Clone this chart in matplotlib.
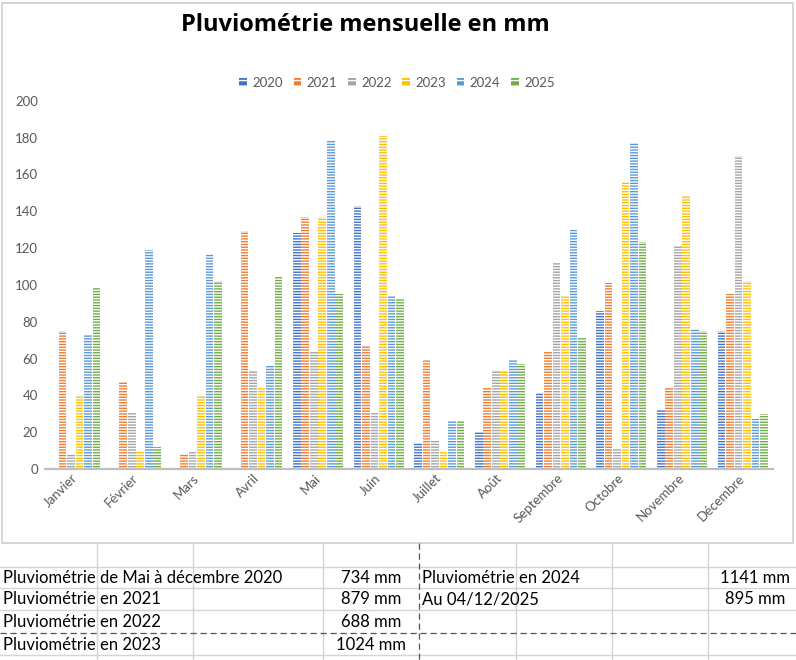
import matplotlib
matplotlib.use("Agg")
import matplotlib.pyplot as plt
import matplotlib.transforms as mtransforms
from matplotlib.lines import Line2D
from matplotlib.patches import Rectangle, Patch
import numpy as np

plt.rcParams['font.family'] = ['Lato', 'DejaVu Sans']
plt.rcParams['hatch.linewidth'] = 1.0

months = ["Janvier", "Février", "Mars", "Avril", "Mai", "Juin", "Juillet",
          "Août", "Septembre", "Octobre", "Novembre", "Décembre"]
years = ["2020", "2021", "2022", "2023", "2024", "2025"]

v2020 = [0, 0, 0, 0, 128, 143, 14, 20, 41, 86, 32, 75]
v2021 = [75, 47, 8, 129, 137, 67, 60, 44, 64, 101, 44, 95]
v2022 = [8, 31, 9, 54, 64, 31, 15, 54, 112, 11, 121, 170]
v2023 = [40, 9, 40, 44, 137, 181, 9, 54, 94, 156, 148, 102]
v2024 = [73, 119, 117, 56, 178, 94, 26, 59, 130, 177, 76, 27]
v2025 = [99, 12, 102, 104, 95, 93, 26, 57, 71, 123, 75, 30]
series = [v2020, v2021, v2022, v2023, v2024, v2025]
colors = ["#4472C4", "#ED7D31", "#A5A5A5", "#FFC000", "#5B9BD5", "#70AD47"]

title = "Pluviométrie mensuelle en mm"

table_rows = [
    ("Pluviométrie de Mai à décembre 2020", "734 mm", "Pluviométrie en 2024", "1141 mm"),
    ("Pluviométrie en 2021", "879 mm", "Au 04/12/2025", "895 mm"),
    ("Pluviométrie en 2022", "688 mm", "", ""),
    ("Pluviométrie en 2023", "1024 mm", "", ""),
]

W, H = 796, 660
fig = plt.figure(figsize=(W / 100, H / 100), dpi=100)

def fx(px):
    return px / W

def fy(py):
    return 1 - py / H

# spreadsheet background grid
grid_c = "#d4d4d4"
for y in [566.7, 588.3, 610.0, 655.0]:
    fig.add_artist(Line2D([0, 1], [fy(y), fy(y)], color=grid_c, lw=1.0))
for x in [96.7, 192.7, 323.3, 515.7, 611.5, 707.5]:
    fig.add_artist(Line2D([fx(x), fx(x)], [fy(543), 0], color=grid_c, lw=1.0))
fig.add_artist(Line2D([0, 1], [fy(632.7), fy(632.7)], color="#555555", lw=0.9,
                      linestyle=(0, (5, 3))))
fig.add_artist(Line2D([fx(419.3), fx(419.3)], [fy(543), 0], color="#555555", lw=0.9,
                      linestyle=(0, (5, 3))))

# chart frame
fig.add_artist(Rectangle((fx(2), fy(542.7)), fx(792.7) - fx(2), fy(2.7) - fy(542.7),
                         facecolor="white", edgecolor="#d0d0d0", lw=1.2, zorder=0))

ax = fig.add_axes([fx(45), fy(469), fx(773) - fx(45), fy(100.7) - fy(469)])
ax.set_facecolor("none")

x = np.arange(len(months))
slot = 0.14
bw = 0.127
for i, (vals, col, yr) in enumerate(zip(series, colors, years)):
    ax.bar(x + (i - 2.5) * slot, vals, width=bw, color=col, edgecolor="white",
           hatch="------", linewidth=0, label=yr)

ax.set_xlim(-0.5, len(months) - 0.5)
ax.set_ylim(0, 200)
ax.set_yticks(np.arange(0, 201, 20))
for s in ["left", "top", "right"]:
    ax.spines[s].set_visible(False)
ax.spines["bottom"].set_color("#bfbfbf")
ax.spines["bottom"].set_linewidth(1.6)
ax.tick_params(axis="y", length=0, pad=5, labelsize=9.5, labelcolor="#595959")
ax.tick_params(axis="x", length=0, pad=2, labelsize=9.5, labelcolor="#595959")
ax.set_xticks(x)
ax.set_xticklabels(months, rotation=45, ha="right", va="top", rotation_mode="anchor")
offset = mtransforms.ScaledTranslation(-4 / 100, 0, fig.dpi_scale_trans)
for lab in ax.get_xticklabels():
    lab.set_transform(lab.get_transform() + offset)

handles = [Patch(facecolor=c, edgecolor="white", hatch="---", linewidth=0) for c in colors]
fig.legend(handles, years, loc="center", bbox_to_anchor=(fx(397), fy(83)), ncol=6,
           frameon=False, fontsize=9.5, handlelength=0.6, handleheight=0.55,
           handletextpad=0.4, columnspacing=0.8, labelcolor="#595959")

fig.text(fx(365), fy(31), title, ha="center", va="baseline", fontsize=17,
         fontweight="bold", family=["Open Sans", "DejaVu Sans"], color="black")

# table text
row_bottoms = [588.3, 610.0, 632.7, 655.0]
for (a, b, c, d), yb in zip(table_rows, row_bottoms):
    yy = fy(yb - 5.5)
    fig.text(fx(3), yy, a, ha="left", va="baseline", fontsize=12, color="black")
    fig.text(fx(371), yy, b, ha="center", va="baseline", fontsize=12, color="black")
    if c:
        fig.text(fx(421.5), yy, c, ha="left", va="baseline", fontsize=12, color="black")
    if d:
        fig.text(fx(755), yy, d, ha="center", va="baseline", fontsize=12, color="black")

fig.savefig("out.png", dpi=100)
